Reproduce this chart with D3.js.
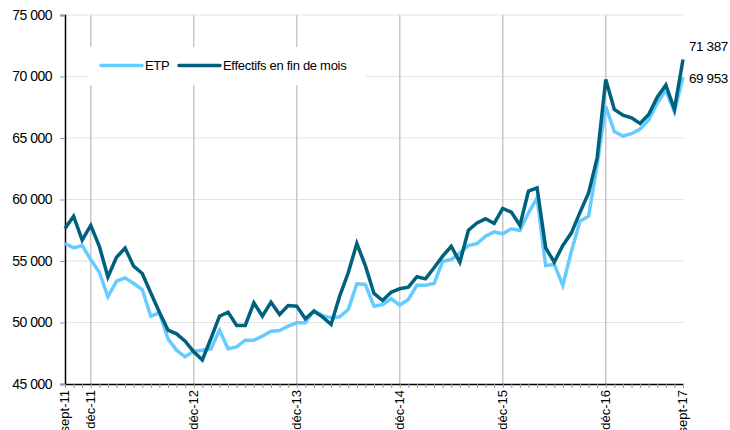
<!DOCTYPE html>
<html>
<head>
<meta charset="utf-8">
<script src="https://cdn.jsdelivr.net/npm/d3@7"></script>
<style>
  body { margin: 0; background: #fff; }
  svg text { font-family: "Liberation Sans", Arial, sans-serif; fill: #000; }
</style>
</head>
<body>
<svg width="730" height="430"></svg>
<script>
// monthly, sept-11 .. sept-17
const months = d3.range(73);
const tickLabels = ["sept-11", "déc-11", "déc-12", "déc-13", "déc-14", "déc-15", "déc-16", "sept-17"];
const tickMonths = [0, 3, 15, 27, 39, 51, 63, 72];
const gridMonths = [3, 15, 27, 39, 51, 63];
const yTicks = [45000, 50000, 55000, 60000, 65000, 70000, 75000];

const etp = [
  56420, 56070, 56260, 55120, 54090, 52090, 53360, 53630, 53170, 52680, 50510, 50790,
  48670, 47750, 47210, 47670, 47750, 47860, 49380, 47860, 48020, 48560, 48560, 48890,
  49290, 49350, 49700, 49970, 49970, 50970, 50560, 50380, 50460, 51060, 53140, 53090,
  51330, 51460, 51930, 51410, 51870, 53030, 53030, 53170, 54980, 55120, 55660, 56260,
  56420, 57020, 57370, 57210, 57620, 57480, 58920, 60140, 54630, 54720, 53010, 55800,
  58240, 58640, 62800, 67550, 65530, 65160, 65350, 65720, 66460, 67830, 68900, 67140,
  69953
];
const effectifs = [
  57650, 58640, 56700, 57890, 56200, 53700, 55300, 56050, 54580, 53980, 52400, 50840,
  49380, 49080, 48480, 47620, 46950, 48700, 50510, 50840, 49760, 49760, 51600, 50510,
  51650, 50650, 51380, 51330, 50300, 50920, 50460, 49840, 52140, 54040, 56420, 54600,
  52360, 51790, 52460, 52740, 52870, 53720, 53550, 54450, 55390, 56200, 54900, 57500,
  58100, 58430, 58050, 59270, 58970, 57890, 60680, 60950, 56070, 54900, 56260, 57290,
  58950, 60540, 63390, 69760, 67320, 66860, 66640, 66180, 66910, 68320, 69310, 67330,
  71387
];

const svg = d3.select("svg");
const margin = { left: 65, right: 47, top: 15, bottom: 46 };
const W = 730, H = 430;

const x = d3.scaleLinear().domain([0, 72]).range([margin.left, W - margin.right]);
const y = d3.scaleLinear().domain([45000, 75000]).range([H - margin.bottom, margin.top]);
const fmt = v => d3.format(",")(v).replace(/,/g, " ");

// horizontal grid
svg.append("g").selectAll("line").data(yTicks.slice(1)).enter().append("line")
  .attr("x1", x(0)).attr("x2", x(72))
  .attr("y1", d => y(d)).attr("y2", d => y(d))
  .attr("stroke", "#e3e3e3").attr("stroke-width", 1);

// vertical grid at december
svg.append("g").selectAll("line").data(gridMonths).enter().append("line")
  .attr("x1", d => x(d)).attr("x2", d => x(d))
  .attr("y1", y(75000)).attr("y2", y(45000))
  .attr("stroke", "#c8c8c8").attr("stroke-width", 1.5);

// y axis
const yAxis = svg.append("g").attr("transform", `translate(${margin.left},0)`)
  .call(d3.axisLeft(y).tickValues(yTicks).tickFormat(fmt).tickSize(5).tickPadding(8));
yAxis.select(".domain").attr("stroke", "#000").attr("stroke-width", 1.5);
yAxis.selectAll(".tick line").attr("stroke", "#999");
yAxis.selectAll("text").attr("font-size", 14).attr("font-family", "Liberation Sans, Arial, sans-serif")
  .attr("fill", "#000").style("letter-spacing", "-0.5px");

// x axis: minor ticks every month
const xAxis = svg.append("g").attr("transform", `translate(0,${y(45000)})`)
  .call(d3.axisBottom(x).tickValues(months).tickFormat("").tickSize(4).tickSizeOuter(0));
xAxis.select(".domain").attr("stroke", "#000").attr("stroke-width", 1.5);
xAxis.selectAll(".tick line").attr("stroke", "#999");

// x labels, rotated
svg.append("g").selectAll("text").data(tickMonths).enter().append("text")
  .attr("transform", (d) => `translate(${x(d) + 4},${y(45000) + 6}) rotate(-90)`)
  .attr("text-anchor", "end")
  .attr("font-size", 13)
  .text((d, i) => tickLabels[i]);

// legend box (covers grid)
svg.append("rect").attr("x", 88).attr("y", 47).attr("width", 278).attr("height", 38).attr("fill", "#fff");

const line = d3.line().x((d, i) => x(i)).y(d => y(d));
svg.append("path").datum(etp).attr("d", line)
  .attr("fill", "none").attr("stroke", "#66ccff").attr("stroke-width", 3.5).attr("stroke-linejoin", "miter");
svg.append("path").datum(effectifs).attr("d", line)
  .attr("fill", "none").attr("stroke", "#00617e").attr("stroke-width", 3.5).attr("stroke-linejoin", "miter");

// legend
const legend = [
  { name: "ETP", color: "#66ccff", x: 101 },
  { name: "Effectifs en fin de mois", color: "#00617e", x: 179 }
];
const lg = svg.append("g").selectAll("g").data(legend).enter().append("g");
lg.append("line").attr("x1", d => d.x).attr("x2", d => d.x + 41)
  .attr("y1", 65.5).attr("y2", 65.5)
  .attr("stroke", d => d.color).attr("stroke-width", 3.5).attr("stroke-linecap", "round");
lg.append("text").attr("x", d => d.x + 44).attr("y", 70).attr("font-size", 13)
  .style("letter-spacing", "-0.3px").text(d => d.name);

// end labels
svg.append("text").attr("x", 689).attr("y", 51).attr("font-size", 13.5)
  .style("letter-spacing", "-0.4px").text(fmt(effectifs[72]));
svg.append("text").attr("x", 689).attr("y", 83).attr("font-size", 13.5)
  .style("letter-spacing", "-0.4px").text(fmt(etp[72]));
</script>
</body>
</html>
